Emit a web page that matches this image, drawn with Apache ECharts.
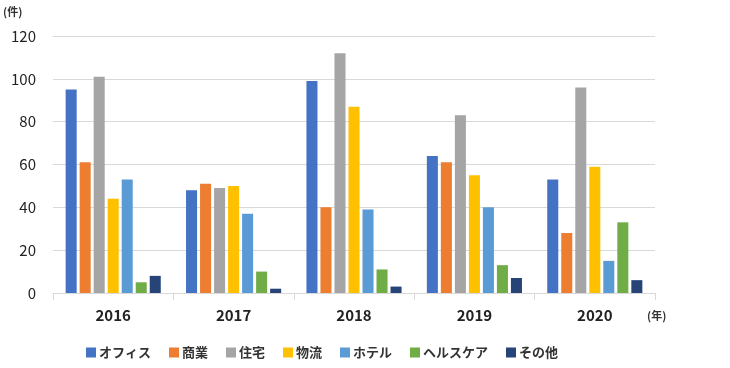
<!DOCTYPE html>
<html><head><meta charset="utf-8">
<script src="https://cdn.jsdelivr.net/npm/echarts@6/dist/echarts.min.js"></script>
<style>html,body{margin:0;padding:0;background:#fff}#c{width:730px;height:368px}</style>
</head><body><div id="c"></div>
<script>
const categories = ['2016','2017','2018','2019','2020'];
const seriesNames = ['オフィス','商業','住宅','物流','ホテル','ヘルスケア','その他'];
const office   = [95, 48, 99, 64, 53];
const commerce = [61, 51, 40, 61, 28];
const housing  = [101, 49, 112, 83, 96];
const logistics= [44, 50, 87, 55, 59];
const hotel    = [53, 37, 39, 40, 15];
const health   = [5, 10, 11, 13, 33];
const other    = [8, 2, 3, 7, 6];
const yTicks = [0,20,40,60,80,100,120];
const colors = ['#4472C4','#ED7D31','#A5A5A5','#FFC000','#5B9BD5','#70AD47','#264478'];
const values = [office, commerce, housing, logistics, hotel, health, other];
const font = '"Noto Sans CJK JP", "Noto Sans", sans-serif';

const chart = echarts.init(document.getElementById('c'), null, {renderer:'canvas'});
chart.setOption({
  animation: false,
  color: colors,
  textStyle: {fontFamily: font},
  grid: {left: 53, right: 75, top: 36, bottom: 75, containLabel: false},
  legend: {
    top: 341, left: 81,
    itemWidth: 10, itemHeight: 10, itemGap: 18,
    icon: 'rect',
    textStyle: {fontSize: 13, color: '#333', fontWeight: 'bold', fontFamily: font, padding:[0,0,0,-2]},
    data: seriesNames
  },
  xAxis: {
    type: 'category', data: categories,
    axisLine: {lineStyle: {color: '#d9d9d9', width: 1}},
    axisTick: {show: true, length: 7, lineStyle: {color: '#d9d9d9'}},
    axisLabel: {fontSize: 15, color: '#222', fontWeight: 'bold', margin: 15, fontFamily: font}
  },
  yAxis: {
    type: 'value', min: yTicks[0], max: yTicks[yTicks.length-1], interval: 20,
    axisLine: {show: false}, axisTick: {show: false},
    splitLine: {lineStyle: {color: '#d9d9d9', width: 1}},
    axisLabel: {fontSize: 15, color: '#222', margin: 17, fontFamily: font}
  },
  graphic: [
    {type:'text', left: 3, top: 6, style:{text:'(件)', fontSize: 11, fontWeight: 'bold', fill:'#333', fontFamily: font}},
    {type:'text', left: 647, top: 310, style:{text:'(年)', fontSize: 11, fontWeight: 'bold', fill:'#333', fontFamily: font}}
  ],
  series: seriesNames.map((n,i)=>({
    name: n, type: 'bar', data: values[i],
    barGap: '27%', barCategoryGap: '21%',
    itemStyle: {color: colors[i]}
  }))
});
</script></body></html>
